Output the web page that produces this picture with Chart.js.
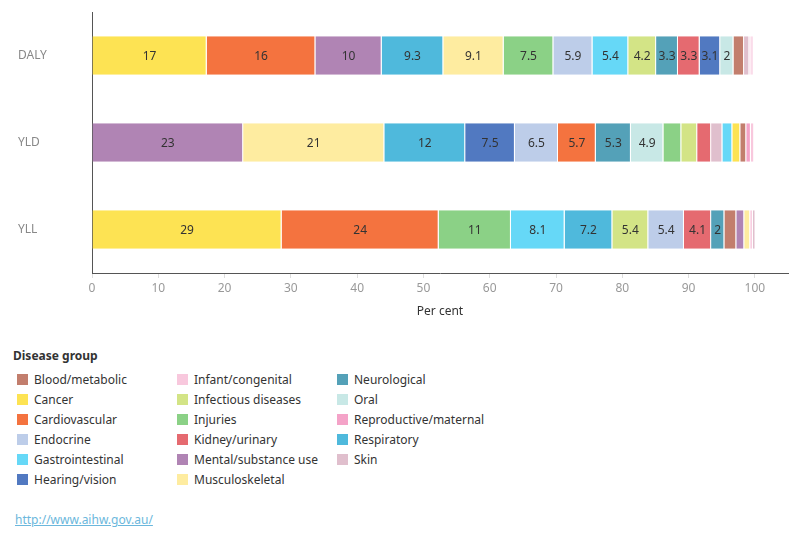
<!DOCTYPE html>
<html lang="en">
<head>
<meta charset="UTF-8">
<title>Burden by disease group</title>
<style>
    body, html {
        margin: 0;
        padding: 0;
        background: #fff;
        font-family: "Noto Sans", Arial, sans-serif;
    }
    #wrap {
        position: absolute;
        left: 0;
        top: 0;
        width: 800px;
        height: 330px;
    }
    #legend {
        position: absolute;
        left: 13px;
        top: 348px;
        color: #333;
        font-size: 12px;
    }
    #legend h3 {
        margin: 0 0 5px 0;
        font-size: 12px;
        line-height: 16px;
        font-weight: bold;
    }
    #legend .cols {
        display: grid;
        grid-template-columns: 160px 160px 160px;
        grid-template-rows: repeat(6, 20px);
        grid-auto-flow: column;
    }
    .item {
        display: flex;
        align-items: center;
        padding-left: 4px;
    }
    .sw {
        width: 11px;
        height: 11px;
        margin-right: 6px;
    }
    #src {
        position: absolute;
        left: 15px;
        top: 511px;
        font-size: 12px;
        color: #6bb7dc;
        text-decoration: underline;
    }
</style>
</head>
<body>

<div id="wrap"><canvas id="myChart"></canvas></div>
<div id="legend">
    <h3>Disease group</h3>
    <div class="cols" id="legend-items"></div>
</div>
<div id="src">http://www.aihw.gov.au/</div>

<script src="https://cdn.jsdelivr.net/npm/chart.js"></script>
<script>
    // bars: DALY, YLD, YLL (per cent of each measure)
    var measures = ['DALY', 'YLD', 'YLL'];

    var bloodMetabolic = [1.6, 0.9, 1.8];
    var cancer = [17.3, 1.2, 28.6];
    var cardiovascular = [16.4, 5.7, 23.7];
    var endocrine = [5.9, 6.5, 5.38];
    var gastrointestinal = [5.4, 1.5, 8.1];
    var hearingVision = [3.1, 7.5, 0];
    var infantCongenital = [0.3, 0.5, 0.4];
    var infectious = [4.2, 2.4, 5.42];
    var injuries = [7.5, 2.7, 10.9];
    var kidneyUrinary = [3.27, 2.1, 4.1];
    var mentalSubstance = [10.0, 22.8, 1.2];
    var musculoskeletal = [9.1, 21.3, 0.9];
    var neurological = [3.3, 5.3, 2.0];
    var oral = [2.0, 4.9, 0];
    var reproductiveMaternal = [0.3, 0.7, 0];
    var respiratory = [9.3, 12.2, 7.2];
    var skin = [0.8, 1.7, 0.4];

    var groups = ['Blood/metabolic', 'Cancer', 'Cardiovascular', 'Endocrine', 'Gastrointestinal',
        'Hearing/vision', 'Infant/congenital', 'Infectious diseases', 'Injuries', 'Kidney/urinary',
        'Mental/substance use', 'Musculoskeletal', 'Neurological', 'Oral', 'Reproductive/maternal',
        'Respiratory', 'Skin'];
    var groupValues = [bloodMetabolic, cancer, cardiovascular, endocrine, gastrointestinal,
        hearingVision, infantCongenital, infectious, injuries, kidneyUrinary,
        mentalSubstance, musculoskeletal, neurological, oral, reproductiveMaternal,
        respiratory, skin];
    var groupColours = ['#c27e6d', '#fde353', '#f4733f', '#bdcde9', '#66d8f7',
        '#5179c1', '#f8c8dd', '#d3e486', '#8bd186', '#e56a70',
        '#b084b4', '#feeca0', '#54a1b8', '#c8e8e6', '#f4a3c8',
        '#4fb9dc', '#e0bfcd'];

    var xTicks = [0, 10, 20, 30, 40, 50, 60, 70, 80, 90, 100];

    // legend (column order, 6 per column)
    var legendBox = document.getElementById('legend-items');
    groups.forEach(function(g, i) {
        var it = document.createElement('div');
        it.className = 'item';
        it.innerHTML = '<span class="sw" style="background:' + groupColours[i] + '"></span>' + g;
        legendBox.appendChild(it);
    });

    // each bar is sorted largest first, so stack by rank
    var order = measures.map(function(m, r) {
        var idx = groups.map(function(g, i) { return i; })
            .filter(function(i) { return groupValues[i][r] > 0; });
        return idx.sort(function(a, b) { return groupValues[b][r] - groupValues[a][r]; });
    });
    var ranks = Math.max.apply(null, order.map(function(o) { return o.length; }));
    var datasets = [];
    for (let k = 0; k < ranks; k++) {
        datasets.push({
            label: 'rank ' + (k + 1),
            data: measures.map(function(m, r) {
                return order[r][k] != null ? groupValues[order[r][k]][r] : null;
            }),
            backgroundColor: measures.map(function(m, r) {
                return order[r][k] != null ? groupColours[order[r][k]] : 'transparent';
            }),
            borderColor: '#fff',
            borderWidth: {top: 0, right: 1, bottom: 0, left: 0},
            borderSkipped: false,
            barPercentage: 0.44,
            categoryPercentage: 1
        });
    }

    function fmt(v) {
        if (v >= 10) return String(Math.round(v));
        return String(parseFloat(v.toFixed(1)));
    }

    // value text inside each segment, only where it fits
    var segLabels = {
        id: 'segLabels',
        afterDatasetsDraw: function(chart) {
            var ctx = chart.ctx;
            ctx.save();
            ctx.font = '12px "Noto Sans", Arial, sans-serif';
            ctx.fillStyle = '#333';
            ctx.textAlign = 'center';
            ctx.textBaseline = 'middle';
            chart.data.datasets.forEach(function(ds, i) {
                chart.getDatasetMeta(i).data.forEach(function(bar, j) {
                    var v = ds.data[j];
                    if (v == null) return;
                    var txt = fmt(v);
                    var w = Math.abs(bar.x - bar.base);
                    if (ctx.measureText(txt).width + 3 > w) return;
                    ctx.fillText(txt, (bar.x + bar.base) / 2, bar.y + 1);
                });
            });
            ctx.restore();
        }
    };

    Chart.defaults.font.family = '"Noto Sans", Arial, sans-serif';
    Chart.defaults.font.size = 12;

    var ctx = document.getElementById('myChart').getContext('2d');
    window.myChart = new Chart(ctx, {
        type: 'bar',
        data: {
            labels: measures,
            datasets: datasets
        },
        options: {
            indexAxis: 'y',
            responsive: true,
            maintainAspectRatio: false,
            animation: false,
            layout: {
                padding: {left: 18, right: 12, top: 12, bottom: 0}
            },
            plugins: {
                legend: {display: false},
                tooltip: {enabled: false}
            },
            scales: {
                x: {
                    type: 'linear',
                    stacked: true,
                    min: 0,
                    max: 105,
                    afterBuildTicks: function(scale) {
                        scale.ticks = xTicks.map(function(v) { return {value: v}; });
                    },
                    afterFit: function(scale) { scale.height = 57; },
                    grid: {drawOnChartArea: false, drawTicks: true, tickLength: 5, color: '#ddd'},
                    border: {color: '#555', width: 1},
                    ticks: {color: '#999', padding: 3, font: {size: 12}},
                    title: {
                        display: true,
                        text: 'Per cent',
                        color: '#333',
                        font: {size: 12},
                        padding: {top: 4, bottom: 11}
                    }
                },
                y: {
                    type: 'category',
                    stacked: true,
                    afterFit: function(scale) { scale.width = 74; },
                    grid: {display: false},
                    border: {display: true, color: '#555', width: 1},
                    ticks: {crossAlign: 'far', color: '#888', padding: 0, font: {size: 12}}
                }
            }
        },
        plugins: [segLabels]
    });
</script>
</body>
</html>
